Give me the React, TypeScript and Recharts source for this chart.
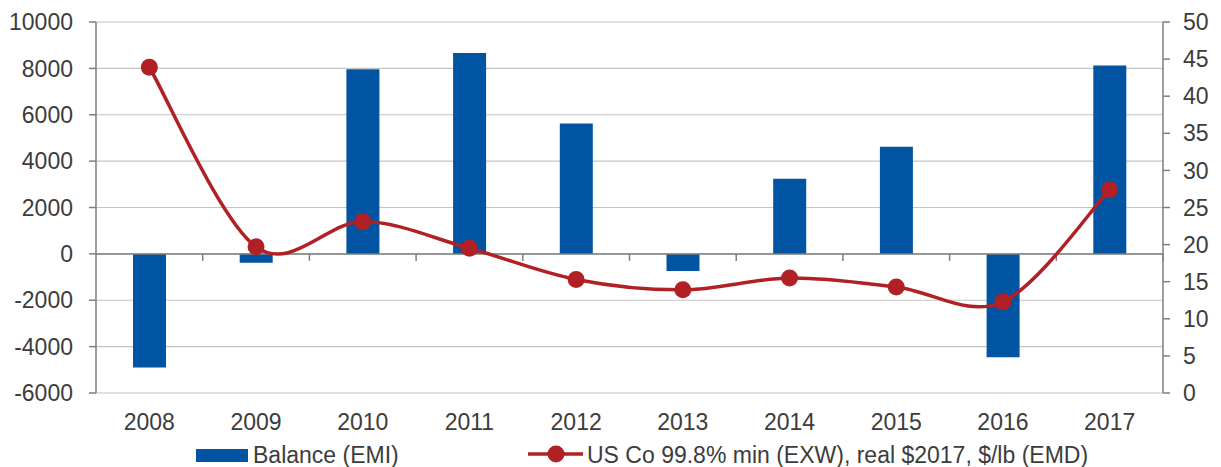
import React from 'react';
import {
  Bar,
  CartesianGrid,
  ComposedChart,
  Legend,
  Line,
  ReferenceLine,
  XAxis,
  YAxis,
} from 'recharts';

// Annual cobalt market balance vs. US price
const years = ['2008', '2009', '2010', '2011', '2012', '2013', '2014', '2015', '2016', '2017'];
const balance = [-4900, -380, 7960, 8660, 5620, -740, 3240, 4620, -4460, 8120];
const price = [43.9, 19.7, 23.1, 19.5, 15.3, 13.9, 15.5, 14.3, 12.3, 27.4];

const leftTicks = [-6000, -4000, -2000, 0, 2000, 4000, 6000, 8000, 10000];
const rightTicks = [0, 5, 10, 15, 20, 25, 30, 35, 40, 45, 50];

const BALANCE_NAME = 'Balance (EMI)';
const PRICE_NAME = 'US Co 99.8% min (EXW), real $2017, $/lb (EMD)';

const data = years.map((year, i) => ({ year, balance: balance[i], price: price[i] }));

const WIDTH = 1221;
const HEIGHT = 467;
const FONT = '"Liberation Sans", Arial, sans-serif';
const TEXT = '#3c3c3c';
const BLUE = '#0054a1';
const RED = '#b02024';
const AXIS = '#7f7f7f';
const GRID = '#c4c4c4';

// Office-style smoothed line: cubic Bezier through every point with
// Catmull-Rom control points (neighbour difference / 6).
const officeSmooth = (context: any) => {
  let pts: [number, number][] = [];
  return {
    areaStart() {},
    areaEnd() {},
    lineStart() {
      pts = [];
    },
    lineEnd() {
      if (!pts.length) return;
      context.moveTo(pts[0][0], pts[0][1]);
      for (let i = 0; i < pts.length - 1; i++) {
        const p0 = pts[i - 1] || pts[i];
        const p1 = pts[i];
        const p2 = pts[i + 1];
        const p3 = pts[i + 2] || p2;
        context.bezierCurveTo(
          p1[0] + (p2[0] - p0[0]) / 6,
          p1[1] + (p2[1] - p0[1]) / 6,
          p2[0] - (p3[0] - p1[0]) / 6,
          p2[1] - (p3[1] - p1[1]) / 6,
          p2[0],
          p2[1]
        );
      }
    },
    point(x: number, y: number) {
      pts.push([+x, +y]);
    },
  };
};

// Category axis drawn across the zero level, with marks between categories
function ZeroAxis(props: any) {
  const { x1, y1, x2, y2 } = props;
  const step = (x2 - x1) / years.length;
  return (
    <g>
      <line x1={x1} y1={y1} x2={x2} y2={y2} stroke={AXIS} strokeWidth={1.5} />
      {years.map((_, i) => (
        <line
          key={i}
          x1={x1 + step * (i + 1)}
          x2={x1 + step * (i + 1)}
          y1={y1}
          y2={y1 + 7}
          stroke={AXIS}
          strokeWidth={1.5}
        />
      ))}
    </g>
  );
}

function LegendContent() {
  return (
    <svg width={WIDTH} height={36} style={{ display: 'block' }}>
      <rect x={196} y={18} width={52} height={13} fill={BLUE} />
      <text x={253} y={32} fontSize={23} fontFamily={FONT} fill={TEXT}>
        {BALANCE_NAME}
      </text>
      <line x1={528} x2={583} y1={23} y2={23} stroke={RED} strokeWidth={3.5} />
      <circle cx={556} cy={23} r={8.5} fill={RED} />
      <text x={587} y={32} fontSize={23} fontFamily={FONT} fill={TEXT}>
        {PRICE_NAME}
      </text>
    </svg>
  );
}

export default function App() {
  const tick = { fontSize: 23, fill: TEXT, fontFamily: FONT };
  return (
    <div style={{ position: 'absolute', left: 0, top: 0, width: WIDTH, height: HEIGHT, background: '#fff' }}>
      <ComposedChart
        width={WIDTH}
        height={HEIGHT}
        data={data}
        margin={{ top: 22, right: 0, bottom: 0, left: 0 }}
        barCategoryGap="0%"
      >
        <CartesianGrid yAxisId="left" vertical={false} stroke={GRID} strokeWidth={1.2} />
        <XAxis
          dataKey="year"
          height={38}
          axisLine={false}
          tickLine={false}
          tickSize={0}
          tickMargin={21}
          tick={tick}
          interval={0}
        />
        <YAxis
          yAxisId="left"
          width={96}
          domain={[-6000, 10000]}
          ticks={leftTicks}
          interval={0}
          axisLine={{ stroke: AXIS, strokeWidth: 1.5 }}
          tickLine={{ stroke: AXIS, strokeWidth: 1.5 }}
          tickSize={7}
          tickMargin={16}
          tick={tick}
        />
        <YAxis
          yAxisId="right"
          orientation="right"
          width={58}
          domain={[0, 50]}
          ticks={rightTicks}
          interval={0}
          axisLine={{ stroke: AXIS, strokeWidth: 1.5 }}
          tickLine={{ stroke: AXIS, strokeWidth: 1.5 }}
          tickSize={7}
          tickMargin={13}
          tick={tick}
        />
        <Legend verticalAlign="bottom" height={36} wrapperStyle={{ left: 0, width: WIDTH }} content={<LegendContent />} />
        <Bar
          yAxisId="left"
          dataKey="balance"
          name={BALANCE_NAME}
          fill={BLUE}
          barSize={33}
          isAnimationActive={false}
        />
        <ReferenceLine yAxisId="left" y={0} shape={<ZeroAxis />} />
        <Line
          yAxisId="right"
          dataKey="price"
          name={PRICE_NAME}
          type={officeSmooth as any}
          stroke={RED}
          strokeWidth={3.5}
          dot={{ r: 8.5, fill: RED, stroke: RED, strokeWidth: 0 }}
          isAnimationActive={false}
        />
      </ComposedChart>
    </div>
  );
}
